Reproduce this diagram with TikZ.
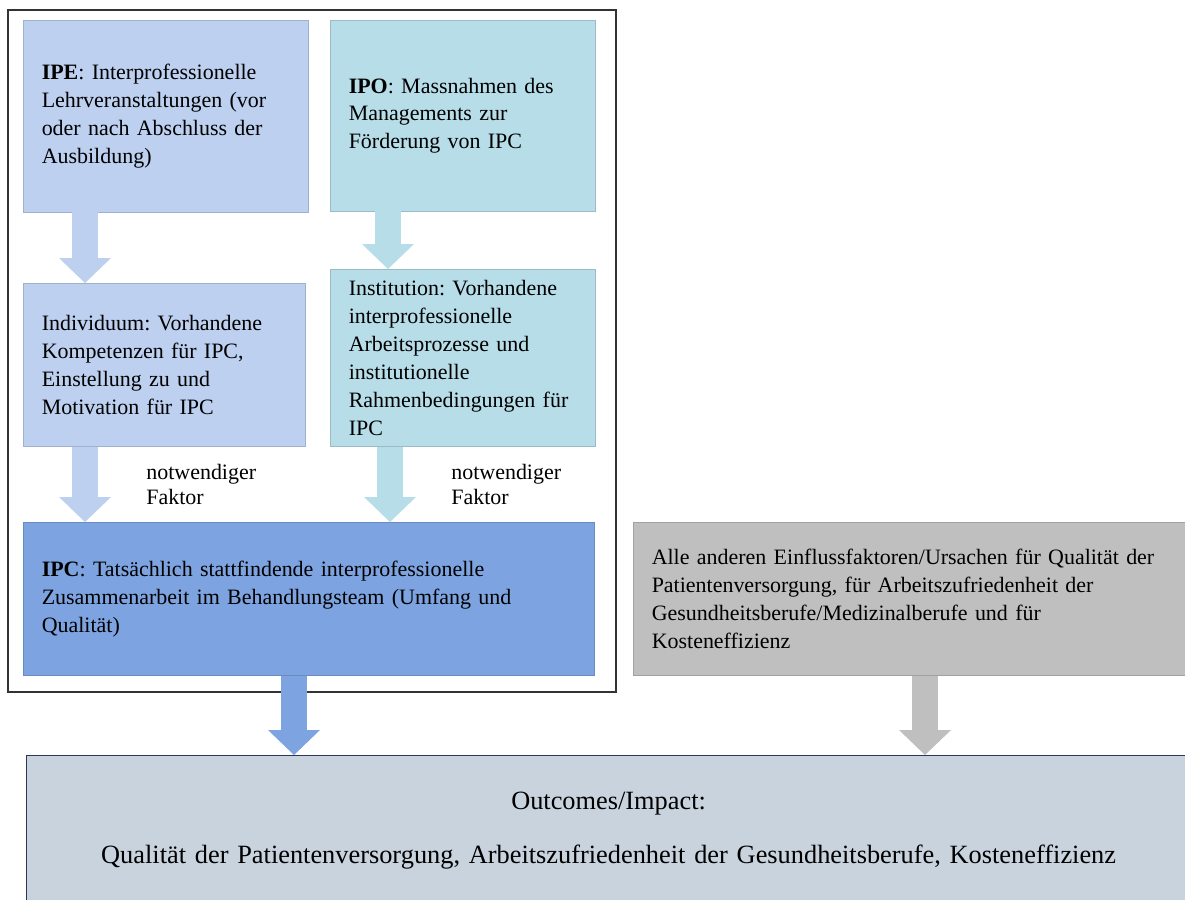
\documentclass[tikz,border=0pt]{standalone}
\usepackage{fontspec}
\setmainfont{Liberation Serif}
\usetikzlibrary{arrows.meta,calc,positioning}

\definecolor{ipeblue}{RGB}{189,208,240}
\definecolor{ipoteal}{RGB}{183,221,232}
\definecolor{ipcblue}{RGB}{125,164,225}
\definecolor{restgray}{RGB}{191,191,191}
\definecolor{outgray}{RGB}{200,211,222}
\definecolor{outline}{RGB}{40,55,90}

\tikzset{
  box/.style={anchor=north west, align=left, inner xsep=0.37cm, inner ysep=0pt,
    font=\fontsize{12.5}{15.9}\selectfont},
  flow/.style={line width=0.52cm,
    -{Triangle[length=0.5cm 0 0, width=1.04cm 0 0, line width=0pt]}},
  factor/.style={right=0.85cm, align=left, text=black, font=\fontsize{12.5}{14.2}\selectfont}
}

\begin{document}
\frenchspacing
\begin{tikzpicture}[x=0.02cm, y=-0.02cm]
  \clip (0,0) rectangle (1185,899);
  \fill[white] (0,0) rectangle (1185,899);
  % frame round the left part
  \draw[black!80, line width=1pt] (8,10) rectangle (616,692);

  \node[box, fill=ipeblue, draw=ipeblue!85!black, line width=0.3pt,
    text width=4.96cm, minimum height=3.84cm] (ipe) at (23,20)
    {\textbf{IPE}: Interprofessionelle\\ Lehrveranstaltungen (vor\\ oder nach Abschluss der\\ Ausbildung)};
  \node[box, fill=ipoteal, draw=ipoteal!85!black, line width=0.3pt,
    text width=4.56cm, minimum height=3.82cm] (ipo) at (330,20)
    {\textbf{IPO}: Massnahmen des\\ Managements zur\\ Förderung von IPC};
  \node[box, fill=ipeblue, draw=ipeblue!85!black, line width=0.3pt,
    text width=4.9cm, minimum height=3.26cm] (indiv) at (23,283)
    {Individuum: Vorhandene\\ Kompetenzen für IPC,\\ Einstellung zu und\\ Motivation für IPC};
  \node[box, fill=ipoteal, draw=ipoteal!85!black, line width=0.3pt,
    text width=4.56cm, minimum height=3.54cm] (inst) at (330,269)
    {Institution: Vorhandene\\ interprofessionelle\\ Arbeitsprozesse und\\ institutionelle\\ Rahmenbedingungen für\\ IPC};
  \node[box, fill=ipcblue, draw=ipcblue!85!black, line width=0.3pt,
    text width=10.68cm, minimum height=3.06cm] (ipc) at (23,522)
    {\textbf{IPC}: Tatsächlich stattfindende interprofessionelle\\ Zusammenarbeit im Behandlungsteam (Umfang und\\ Qualität)};
  \node[box, fill=restgray, draw=restgray!85!black, line width=0.3pt,
    text width=10.4cm, minimum height=3.06cm] (rest) at (633,522)
    {Alle anderen Einflussfaktoren/Ursachen für Qualität der\\ Patientenversorgung, für Arbeitszufriedenheit der\\ Gesundheitsberufe/Medizinalberufe und für\\ Kosteneffizienz};
  \node[box, align=center, fill=outgray, draw=outline, line width=0.8pt,
    text width=22.54cm, minimum height=3cm,
    font=\fontsize{15}{31}\selectfont] (outcome) at (26,755)
    {Outcomes/Impact:\\ Qualität der Patientenversorgung, Arbeitszufriedenheit der Gesundheitsberufe, Kosteneffizienz};

  \draw[flow, ipeblue] ($(ipe.south west)+(62,0)$) -- ($(indiv.north west)+(62,0)$);
  \draw[flow, ipoteal] ($(ipo.south west)+(58,0)$) -- ($(inst.north west)+(58,0)$);
  \draw[flow, ipeblue] ($(indiv.south west)+(62,0)$) -- node[factor] {notwendiger\\ Faktor} ($(ipc.north west)+(62,0)$);
  \draw[flow, ipoteal] ($(inst.south west)+(60,0)$) -- node[factor] {notwendiger\\ Faktor} ($(ipc.north west)+(367,0)$);
  \draw[flow, ipcblue] ($(ipc.south west)+(271,0)$) -- ($(outcome.north west)+(268,0)$);
  \draw[flow, restgray] ($(rest.south west)+(292,0)$) -- ($(outcome.north west)+(899,0)$);
\end{tikzpicture}
\end{document}
